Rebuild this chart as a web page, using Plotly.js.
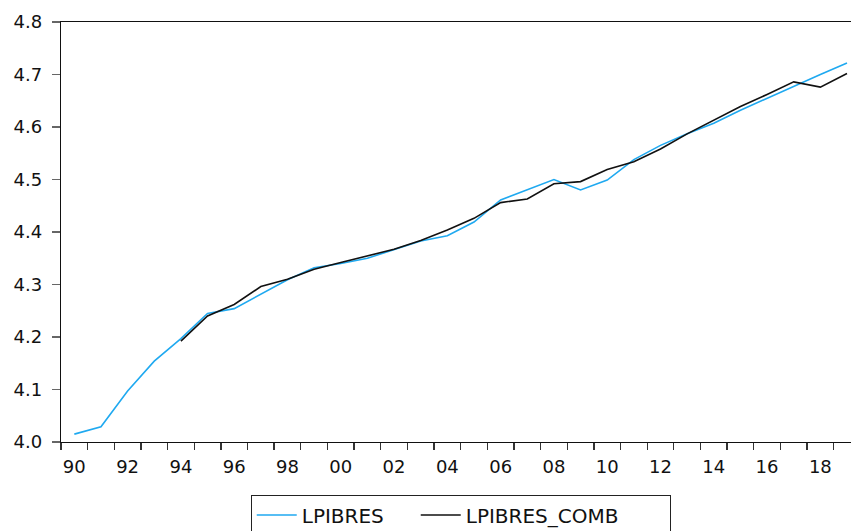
<!DOCTYPE html>
<html>
<head>
<meta charset="utf-8">
<script src="https://cdn.plot.ly/plotly-3.0.1.min.js"></script>
<style>
html,body{margin:0;padding:0;background:#fff;}
#chart{width:851px;height:531px;}
</style>
</head>
<body>
<div id="chart"></div>
<script>
var years = [1990,1991,1992,1993,1994,1995,1996,1997,1998,1999,2000,2001,2002,2003,2004,2005,2006,2007,2008,2009,2010,2011,2012,2013,2014,2015,2016,2017,2018,2019];
var lpibres = [4.015,4.029,4.097,4.154,4.197,4.245,4.254,4.282,4.309,4.332,4.340,4.350,4.367,4.383,4.393,4.419,4.461,4.480,4.500,4.480,4.499,4.538,4.565,4.587,4.607,4.632,4.655,4.678,4.700,4.722];
var lpibresComb = [null,null,null,null,4.192,4.240,4.262,4.296,4.310,4.329,4.342,4.354,4.367,4.384,4.404,4.426,4.456,4.463,4.492,4.496,4.519,4.534,4.558,4.587,4.613,4.639,4.662,4.686,4.676,4.702];
var tickYears = [1990,1992,1994,1996,1998,2000,2002,2004,2006,2008,2010,2012,2014,2016,2018];
var tickLabels = ["90","92","94","96","98","00","02","04","06","08","10","12","14","16","18"];
var yTicks = [4.0,4.1,4.2,4.3,4.4,4.5,4.6,4.7,4.8];
var yTickLabels = ["4.0","4.1","4.2","4.3","4.4","4.5","4.6","4.7","4.8"];

var traces = [
  {x: years, y: lpibres, name: "LPIBRES", type: "scatter", mode: "lines",
   line: {color: "#1fa9f0", width: 1.6}, legendwidth: 109},
  {x: years, y: lpibresComb, name: "LPIBRES_COMB", type: "scatter", mode: "lines",
   line: {color: "#111111", width: 1.6}, connectgaps: false, legendwidth: 199}
];

var layout = {
  width: 851, height: 531,
  margin: {l: 61, r: 0, t: 22, b: 89, autoexpand: false},
  paper_bgcolor: "#ffffff", plot_bgcolor: "#ffffff",
  font: {family: "DejaVu Sans, Arial, sans-serif", size: 18, color: "#111"},
  showlegend: true,
  legend: {orientation: "h", x: 0.506, xanchor: "center", y: -0.125, yanchor: "top",
           bordercolor: "#222", borderwidth: 1, font: {size: 20, color: "#111"},
           bgcolor: "#fff", itemwidth: 40},
  xaxis: {
    range: [1989.5, 2019.15], showgrid: false, zeroline: false,
    showline: true, linecolor: "#111", linewidth: 1.3, mirror: true,
    tickmode: "array", tickvals: tickYears, ticktext: tickLabels,
    ticks: "", ticklabelstandoff: 8,
    minor: {tickmode: "linear", tick0: 1989.5, dtick: 1, ticks: "outside", ticklen: 7, tickcolor: "#333", tickwidth: 1.3, showgrid: false},
    tickfont: {size: 18, color: "#111"}
  },
  yaxis: {
    range: [4.0, 4.8], showgrid: false, zeroline: false,
    showline: true, linecolor: "#111", linewidth: 1.3,
    tickmode: "array", tickvals: yTicks, ticktext: yTickLabels,
    ticks: "outside", ticklen: 8, tickcolor: "#666", tickwidth: 1.3,
    ticklabelstandoff: 6,
    tickfont: {size: 18, color: "#111"}
  }
};

Plotly.newPlot("chart", traces, layout, {displayModeBar: false, staticPlot: true});
</script>
</body>
</html>
